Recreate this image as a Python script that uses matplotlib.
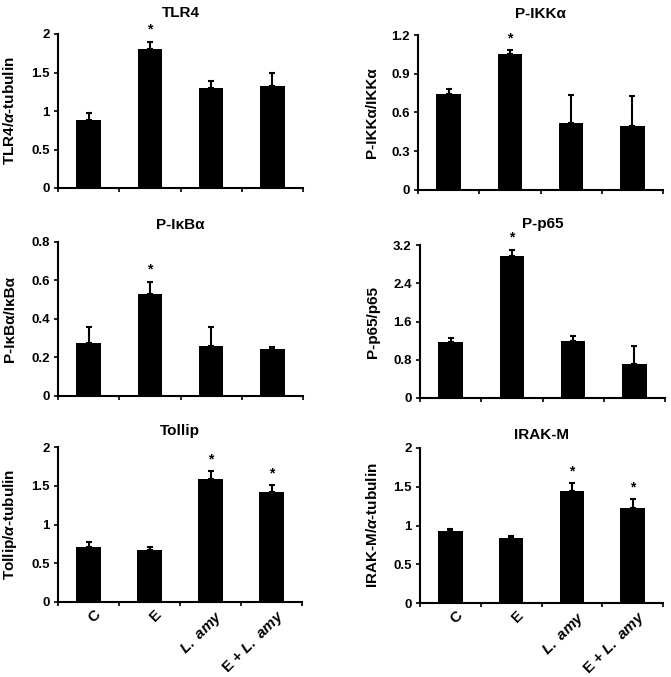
import matplotlib
matplotlib.use('Agg')
import matplotlib.pyplot as plt
import numpy as np

plt.rcParams['font.family'] = 'Liberation Sans'
plt.rcParams['font.weight'] = 'bold'
plt.rcParams['mathtext.fontset'] = 'custom'
plt.rcParams['mathtext.rm'] = 'Liberation Sans:bold'
plt.rcParams['mathtext.it'] = 'Liberation Sans:italic:bold'
plt.rcParams['mathtext.bf'] = 'Liberation Sans:bold'

groups = ['C', 'E', '$\\it{L.\\ amy}$', 'E + $\\it{L.\\ amy}$']

titles = ['TLR4', 'P-IKKα', 'P-IκBα', 'P-p65', 'Tollip', 'IRAK-M']
ylabels = ['TLR4/$\\it{\\alpha}$-tubulin', 'P-IKKα/IKKα', 'P-IκBα/IκBα',
           'P-p65/p65', 'Tollip/$\\it{\\alpha}$-tubulin', 'IRAK-M/$\\it{\\alpha}$-tubulin']

tlr4 = [0.88, 1.80, 1.30, 1.33]
tlr4_err = [0.09, 0.10, 0.09, 0.17]
p_ikka = [0.745, 1.055, 0.515, 0.493]
p_ikka_err = [0.04, 0.03, 0.22, 0.235]
p_ikba = [0.274, 0.528, 0.258, 0.245]
p_ikba_err = [0.087, 0.066, 0.098, 0.011]
p_p65 = [1.17, 2.97, 1.19, 0.71]
p_p65_err = [0.09, 0.13, 0.11, 0.37]
tollip = [0.71, 0.67, 1.59, 1.42]
tollip_err = [0.06, 0.04, 0.10, 0.09]
irak_m = [0.935, 0.845, 1.45, 1.23]
irak_m_err = [0.025, 0.025, 0.10, 0.11]

values = [tlr4, p_ikka, p_ikba, p_p65, tollip, irak_m]
errors = [tlr4_err, p_ikka_err, p_ikba_err, p_p65_err, tollip_err, irak_m_err]
yticks = [[0, 0.5, 1, 1.5, 2], [0, 0.3, 0.6, 0.9, 1.2], [0, 0.2, 0.4, 0.6, 0.8],
          [0, 0.8, 1.6, 2.4, 3.2], [0, 0.5, 1, 1.5, 2], [0, 0.5, 1, 1.5, 2]]
stars = [[1], [1], [1], [1], [2, 3], [2, 3]]

W, H = 671, 677
fig = plt.figure(figsize=(W / 100, H / 100), dpi=100)

# axes boxes in pixels: left, right, top, bottom
boxes = [(58, 303, 34, 188), (418, 663, 35, 190),
         (58, 303, 242, 396), (420, 665, 245, 398),
         (58, 302, 447, 602), (420, 663, 448, 603)]
title_pads = [11.9, 12.6, 9, 11.9, 8.3, 6.8]
label_x = [-0.167, -0.159, -0.167, -0.163, -0.16, -0.163]

x = np.arange(1, 5)
for i, (l, r, t, b) in enumerate(boxes):
    ax = fig.add_axes([l / W, 1 - b / H, (r - l) / W, (b - t) / H])
    ax.bar(x, values[i], width=0.4, color='black')
    ax.errorbar(x, values[i], yerr=[np.zeros(4), errors[i]], fmt='none',
                ecolor='black', elinewidth=1.5, capsize=2.5, capthick=1.5)
    for j in stars[i]:
        ax.annotate('*', (x[j], values[i][j] + errors[i][j]), xytext=(0, 3.5),
                    textcoords='offset points', ha='center', va='bottom',
                    fontsize=10, fontweight='bold')
    ax.set_xlim(0.5, 4.5)
    ax.set_ylim(0, yticks[i][-1])
    ax.set_yticks(yticks[i])
    ax.set_yticklabels([f'{v:g}' for v in yticks[i]])
    ax.set_xticks([0.5, 1.5, 2.5, 3.5, 4.5])
    ax.set_xticklabels([])
    ax.tick_params(axis='both', direction='out', length=3, width=1.2,
                   labelsize=9.5, pad=3)
    ax.spines['top'].set_visible(False)
    ax.spines['right'].set_visible(False)
    ax.spines['left'].set_linewidth(1.5)
    ax.spines['bottom'].set_linewidth(1.5)
    ax.set_title(titles[i], fontsize=11, fontweight='bold', pad=title_pads[i])
    ax.set_ylabel(ylabels[i], fontsize=11, fontweight='bold')
    ax.yaxis.set_label_coords(label_x[i], 0.5)
    if i >= 4:
        for k in range(4):
            ax.text(x[k] + 0.08, -0.035, groups[k], transform=ax.get_xaxis_transform(),
                    rotation=45, ha='right', va='top', rotation_mode='anchor',
                    fontsize=11, fontweight='bold')

fig.savefig('out.png', dpi=100)
